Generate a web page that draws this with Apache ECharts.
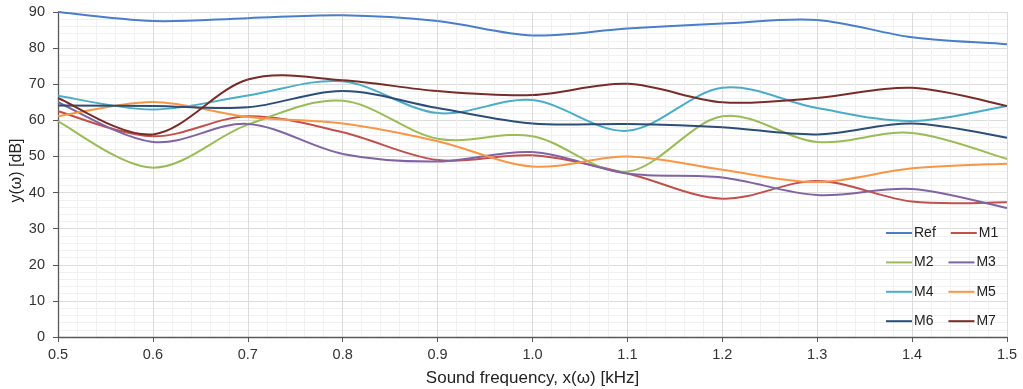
<!DOCTYPE html>
<html><head><meta charset="utf-8">
<script src="https://cdn.jsdelivr.net/npm/echarts@6/dist/echarts.min.js"></script>
<style>html,body{margin:0;padding:0;background:#fff}#c{width:1023px;height:389px}</style>
</head><body><div id="c"></div>
<script>
const freqs = [0.5,0.6,0.7,0.8,0.9,1.0,1.1,1.2,1.3,1.4,1.5];
const seriesNames = ['Ref','M1','M2','M3','M4','M5','M6','M7'];
const Ref = [90,87.5,88.3,89.1,87.5,83.5,85.4,86.8,87.8,83,81.1];
const M1  = [62.5,55.6,61.1,56.7,49,50.3,45.3,38.3,43.2,37.5,37.3];
const M2  = [59.7,46.9,58.8,65.4,54.9,55.6,45.8,61.1,54,56.5,49.3];
const M3  = [65,54,59,50.7,48.6,51.2,45.3,44.2,39.3,41,35.7];
const M4  = [66.8,63,66.9,70.8,62,65.6,57.1,69,63.4,59.8,64];
const M5  = [61.1,65.1,60.9,59.1,54.2,47.2,50,46.3,42.9,46.7,48];
const M6  = [64.1,64,63.6,68.1,63.4,59.1,59,58.1,56.1,59.1,55.2];
const M7  = [66.2,56.1,71.3,71.1,68.1,67,70.1,65,66.2,69,64];
const values = [Ref,M1,M2,M3,M4,M5,M6,M7];
const colors = ['#4A7EC8','#C0504D','#9BBB59','#8064A2','#4BACC6','#F79646','#2C4D75','#772C2A'];
const yTicks = [0,10,20,30,40,50,60,70,80,90];

const font = 'Liberation Sans, Arial, sans-serif';
const chart = echarts.init(document.getElementById('c'));
const legends = [];
for (let r = 0; r < 4; r++) {
  legends.push({
    left: 886, top: 226 + r*29.4, padding: 0,
    data: [seriesNames[2*r], seriesNames[2*r+1]],
    icon: 'rect', itemWidth: 26, itemHeight: 2, itemGap: 15,
    textStyle: {fontFamily: font, fontSize: 14, color: '#222', padding: [0,0,0,-3]},
    selectedMode: false
  });
}

function makeRender(i) {
  const arr = values[i];
  const n = arr.length;
  const cl = k => Math.max(0, Math.min(n - 1, k));
  return function (params, api) {
    const j = params.dataIndex;
    if (j >= n - 1) return null;
    const P = k => api.coord([freqs[cl(k)], arr[cl(k)]]);
    const p0 = P(j - 1), p1 = P(j), p2 = P(j + 1), p3 = P(j + 2);
    return {
      type: 'bezierCurve',
      shape: {
        x1: p1[0], y1: p1[1], x2: p2[0], y2: p2[1],
        cpx1: p1[0] + (p2[0] - p0[0]) / 6, cpy1: p1[1] + (p2[1] - p0[1]) / 6,
        cpx2: p2[0] - (p3[0] - p1[0]) / 6, cpy2: p2[1] - (p3[1] - p1[1]) / 6
      },
      style: {stroke: colors[i], lineWidth: 2, fill: null},
      silent: true
    };
  };
}

chart.setOption({
  animation: false,
  color: colors,
  grid: {left: 58, right: 16, top: 12, bottom: 52, containLabel: false, outerBoundsMode: 'none'},
  legend: legends,
  xAxis: {
    type: 'value', min: 0.5, max: 1.5, interval: 0.1,
    name: 'Sound frequency, x(ω) [kHz]', nameLocation: 'middle', nameGap: 33, nameMoveOverlap: false,
    nameTextStyle: {fontFamily: font, fontSize: 17, color: '#222'},
    axisLine: {show: true, lineStyle: {color: '#595959', width: 1.3}},
    axisTick: {show: true, length: 5, lineStyle: {color: '#595959'}},
    axisLabel: {fontFamily: font, fontSize: 14.5, color: '#333', margin: 10,
      formatter: v => v.toFixed(1)},
    splitLine: {show: true, lineStyle: {color: '#dcdcdc'}},
    minorTick: {show: false, splitNumber: 5},
    minorSplitLine: {show: true, lineStyle: {color: '#f0f0f0'}}
  },
  yAxis: {
    type: 'value', min: 0, max: 90, interval: 10,
    name: 'y(ω) [dB]', nameLocation: 'middle', nameGap: 33, nameRotate: 90, nameMoveOverlap: false,
    nameTextStyle: {fontFamily: font, fontSize: 16, color: '#222', padding: [0, 0, 0, 8]},
    axisLine: {show: true, lineStyle: {color: '#595959', width: 1.3}},
    axisTick: {show: true, length: 5, lineStyle: {color: '#595959'}},
    axisLabel: {fontFamily: font, fontSize: 14.5, color: '#333', margin: 13,
      formatter: v => yTicks.includes(v) ? String(v) : ''},
    splitLine: {show: true, lineStyle: {color: '#dcdcdc'}},
    minorTick: {show: false, splitNumber: 5},
    minorSplitLine: {show: true, lineStyle: {color: '#f0f0f0'}}
  },
  series: seriesNames.map((nm, i) => ({
    name: nm, type: 'custom', renderItem: makeRender(i),
    itemStyle: {color: colors[i]},
    encode: {x: 0, y: 1},
    data: freqs.map((f, j) => [f, values[i][j]])
  }))
});
</script></body></html>
